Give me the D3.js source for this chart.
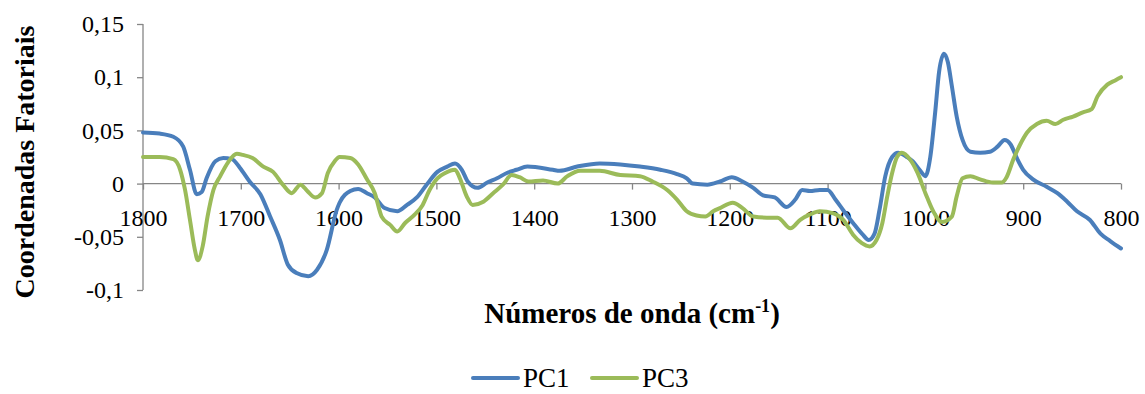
<!DOCTYPE html>
<html lang="pt">
<head>
    <meta charset="UTF-8">
    <title>Coordenadas Fatoriais</title>
    <script src="https://cdn.jsdelivr.net/npm/d3@7"></script>
    <style>
        body { margin: 0; background: #fff; }
        text { font-family: "Liberation Serif", "Times New Roman", serif; }
    </style>
</head>
<body>
<script type="text/javascript">
    // dados
    var wavePC1 = [1800, 1783, 1769, 1759, 1752, 1745, 1740, 1735, 1726, 1718, 1709, 1701, 1691, 1680, 1670, 1660,
        1652, 1643, 1631, 1622, 1612, 1602, 1599, 1588, 1580, 1571, 1563, 1553, 1540, 1530, 1520, 1510, 1499, 1489,
        1481, 1474, 1468, 1458, 1448, 1438, 1428, 1418, 1407, 1381, 1374, 1356, 1333, 1312, 1292, 1271, 1254, 1244,
        1238, 1223, 1210, 1198, 1187, 1176, 1166, 1154, 1142, 1133, 1126, 1118, 1108, 1100, 1092, 1084, 1074, 1064,
        1058, 1052, 1047, 1041, 1034, 1028, 1019, 1013, 1006, 1000, 995, 990, 986, 981, 977, 973, 968, 962, 954, 944,
        934, 926, 919, 913, 906, 900, 890, 876, 865, 855, 845, 832, 821, 811, 800];
    var pc1 = [0.048, 0.047, 0.044, 0.035, 0.013, -0.010, -0.008, 0.005, 0.021, 0.024, 0.023, 0.015, 0.002, -0.010,
        -0.031, -0.053, -0.076, -0.084, -0.087, -0.081, -0.062, -0.025, -0.018, -0.007, -0.005, -0.009, -0.013, -0.023,
        -0.026, -0.020, -0.013, -0.001, 0.011, 0.016, 0.019, 0.013, 0.002, -0.004, 0.001, 0.005, 0.010, 0.013, 0.016,
        0.013, 0.012, 0.016, 0.019, 0.018, 0.016, 0.013, 0.009, 0.005, 0.000, -0.001, 0.002, 0.006, 0.002, -0.004,
        -0.011, -0.013, -0.022, -0.015, -0.006, -0.007, -0.006, -0.006, -0.015, -0.025, -0.037, -0.048, -0.053, -0.047,
        -0.025, 0.007, 0.025, 0.029, 0.025, 0.021, 0.013, 0.007, 0.025, 0.067, 0.105, 0.122, 0.114, 0.092, 0.063, 0.041,
        0.030, 0.029, 0.030, 0.035, 0.041, 0.037, 0.023, 0.013, 0.004, -0.003, -0.009, -0.017, -0.026, -0.034, -0.047,
        -0.054, -0.061];

    var wavePC3 = [1800, 1783, 1769, 1762, 1757, 1752, 1747, 1744, 1739, 1734, 1728, 1721, 1713, 1704, 1698, 1688,
        1677, 1667, 1657, 1648, 1639, 1632, 1624, 1617, 1611, 1604, 1599, 1588, 1580, 1571, 1563, 1556, 1547, 1540,
        1532, 1522, 1514, 1507, 1499, 1491, 1481, 1476, 1469, 1463, 1452, 1442, 1432, 1423, 1415, 1406, 1391, 1376,
        1366, 1353, 1333, 1312, 1292, 1279, 1264, 1254, 1244, 1234, 1225, 1217, 1210, 1197, 1187, 1176, 1162, 1151,
        1138, 1128, 1118, 1108, 1094, 1084, 1074, 1065, 1057, 1050, 1044, 1039, 1034, 1029, 1024, 1016, 1008, 1000,
        992, 983, 973, 968, 962, 954, 944, 931, 922, 917, 910, 903, 896, 886, 876, 867, 859, 849, 839, 830, 824, 814,
        806, 800];
    var pc3 = [0.025, 0.025, 0.023, 0.013, -0.006, -0.034, -0.062, -0.072, -0.059, -0.031, -0.006, 0.007, 0.020, 0.028,
        0.027, 0.024, 0.016, 0.011, -0.001, -0.009, -0.001, -0.007, -0.013, -0.009, 0.010, 0.021, 0.025, 0.024, 0.018,
        0.004, -0.009, -0.031, -0.039, -0.045, -0.037, -0.029, -0.020, -0.006, 0.005, 0.010, 0.013, 0.005, -0.012,
        -0.020, -0.017, -0.009, -0.001, 0.008, 0.006, 0.002, 0.003, 0.000, 0.007, 0.012, 0.012, 0.008, 0.007, 0.002,
        -0.006, -0.015, -0.026, -0.030, -0.031, -0.026, -0.023, -0.018, -0.023, -0.031, -0.032, -0.032, -0.042, -0.034,
        -0.029, -0.026, -0.028, -0.034, -0.048, -0.056, -0.059, -0.053, -0.037, -0.012, 0.010, 0.025, 0.029, 0.023,
        0.010, -0.009, -0.026, -0.036, -0.031, -0.012, 0.005, 0.007, 0.004, 0.001, 0.001, 0.006, 0.023, 0.037, 0.048,
        0.056, 0.059, 0.056, 0.060, 0.063, 0.067, 0.070, 0.082, 0.093, 0.097, 0.100];

    var xTicks = [1800, 1700, 1600, 1500, 1400, 1300, 1200, 1100, 1000, 900, 800];
    var yTicks = [-0.1, -0.05, 0, 0.05, 0.1, 0.15];
    var yTickLabels = ["-0,1", "-0,05", "0", "0,05", "0,1", "0,15"];
    var seriesNames = ["PC1", "PC3"];
    var colors = ["#4a7ebb", "#9bbb59"];

    var width = 1145;
    var height = 394;
    var svg = d3.select("body").append("svg")
            .attr("width", width)
            .attr("height", height);

    var xScale = d3.scaleLinear().domain([1800, 800]).range([143, 1121]);
    var yScale = d3.scaleLinear().domain([-0.1, 0.15]).range([290, 24]);
    var axisColor = "#868686";

    // eixo y
    var yAxis = d3.axisLeft(yScale)
            .tickValues(yTicks)
            .tickSize(6)
            .tickPadding(13)
            .tickFormat(function (d, i) { return yTickLabels[i]; });
    var gy = svg.append("g")
            .attr("transform", "translate(143,0)")
            .call(yAxis);

    // eixo x no zero
    var xAxis = d3.axisBottom(xScale)
            .tickValues(xTicks)
            .tickSize(6)
            .tickPadding(19)
            .tickFormat(d3.format("d"));
    var gx = svg.append("g")
            .attr("transform", "translate(0," + yScale(0) + ")")
            .call(xAxis);

    [gx, gy].forEach(function (g) {
        g.selectAll("path, line").attr("stroke", axisColor).attr("stroke-width", 1.3);
        g.selectAll("text")
                .attr("fill", "#000")
                .style("font-family", "'Liberation Serif', 'Times New Roman', serif")
                .style("font-size", "24px");
    });
    gx.select(".domain").attr("d", "M143,0H1121");
    gy.select(".domain").attr("d", "M0,24V290");

    // linhas
    var series = [
        {name: seriesNames[0], x: wavePC1, y: pc1, color: colors[0]},
        {name: seriesNames[1], x: wavePC3, y: pc3, color: colors[1]}
    ];
    var line = d3.line()
            .x(function (d) { return xScale(d[0]); })
            .y(function (d) { return yScale(d[1]); })
            .curve(d3.curveMonotoneX);

    series.forEach(function (s) {
        svg.append("path")
                .datum(d3.zip(s.x, s.y))
                .attr("fill", "none")
                .attr("stroke", s.color)
                .attr("stroke-width", 4)
                .attr("stroke-linejoin", "round")
                .attr("stroke-linecap", "round")
                .attr("d", line);
    });

    // títulos
    var xt = svg.append("text")
            .attr("x", 632)
            .attr("y", 323)
            .attr("text-anchor", "middle")
            .style("font-size", "29px")
            .style("font-weight", "bold")
            .text("Números de onda (cm");
    xt.append("tspan").attr("dy", -11).style("font-size", "18px").text("-1");
    xt.append("tspan").attr("dy", 11).text(")");

    svg.append("text")
            .attr("transform", "translate(34,162) rotate(-90)")
            .attr("text-anchor", "middle")
            .style("font-size", "28px")
            .style("font-weight", "bold")
            .text("Coordenadas Fatoriais");

    // legenda
    var legendX = [473, 592];
    series.forEach(function (s, i) {
        var g = svg.append("g").attr("transform", "translate(" + legendX[i] + ",378)");
        g.append("line")
                .attr("x1", 0).attr("x2", 45)
                .attr("stroke", s.color)
                .attr("stroke-width", 4)
                .attr("stroke-linecap", "round");
        g.append("text")
                .attr("x", 50)
                .attr("y", 9)
                .style("font-size", "27px")
                .text(s.name);
    });
</script>
</body>
</html>
